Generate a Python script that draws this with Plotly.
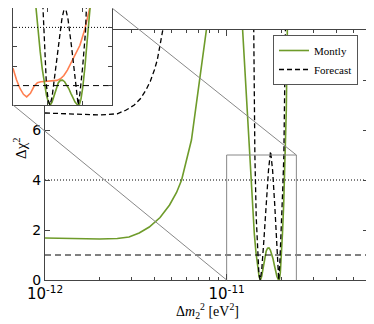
# Delta chi^2 scan: Montly fit vs forecast, with zoomed inset
import numpy as np
import plotly.graph_objs as go

# x values are in units of 1e-12 eV^2
montly_x = [1.0, 1.5, 2.0, 2.5, 2.9, 3.3, 3.75, 4.3, 4.85, 5.3, 5.65, 6.4, 7.1, 7.8, 8.5,
            11.5, 12.2, 12.8, 13.3, 13.6, 13.9, 14.2, 14.5, 14.8, 15.1, 15.35, 15.6, 15.9,
            16.2, 16.5, 16.8, 17.1, 17.4, 17.7, 18.0, 18.3, 18.6, 18.9, 19.2, 19.5, 19.75,
            20.0, 20.3, 20.6, 20.85, 21.05, 21.3, 21.6, 22.0, 60.0]
montly_chi2 = [1.68, 1.66, 1.64, 1.66, 1.72, 1.88, 2.12, 2.5, 3.0, 3.5, 4.0, 5.6, 7.9, 10.2, 13.0,
               14.0, 10.2, 7.5, 5.0, 3.8, 2.75, 1.85, 1.1, 0.5, 0.12, 0.0, 0.15, 0.5,
               0.9, 1.15, 1.27, 1.28, 1.2, 1.05, 0.85, 0.6, 0.35, 0.15, 0.03, 0.0, 0.3,
               0.9, 1.9, 3.0, 4.1, 5.0, 6.8, 10.2, 13.0, 14.0]

forecast_x = [1.0, 1.5, 2.0, 2.5, 2.8, 3.1, 3.35, 3.6, 3.8, 4.0, 4.15, 4.3, 4.45, 4.6,
              13.8, 14.1, 14.3, 14.55, 14.8, 15.05, 15.3, 15.6, 16.0, 16.5, 17.0, 17.45,
              17.9, 18.4, 18.8, 19.1, 19.35, 19.6, 20.0, 20.4, 20.65, 20.9, 21.1, 60.0]
forecast_chi2 = [6.68, 6.62, 6.6, 6.65, 6.8, 7.0, 7.25, 7.6, 7.95, 8.4, 8.8, 9.4, 10.0, 11.0,
                 12.0, 10.0, 5.0, 2.5, 1.0, 0.25, 0.0, 0.4, 1.5, 3.0, 4.4, 5.15,
                 4.4, 3.0, 1.6, 0.5, 0.0, 0.6, 2.0, 3.8, 5.0, 8.0, 10.5, 12.0]

other_x = [10.0, 10.5, 11.0, 11.5, 11.96, 12.5, 13.0, 13.5, 14.0, 14.5, 15.0, 15.5, 16.3,
           16.8, 17.3, 17.8, 18.2, 18.9, 19.6, 20.3, 21.0, 21.2]
other_chi2 = [1.9, 1.3, 0.85, 0.55, 0.42, 0.6, 0.95, 1.15, 1.2, 1.22, 1.23, 1.25, 1.27,
              1.35, 1.52, 1.8, 2.08, 2.55, 3.08, 3.9, 4.9, 5.3]

ref_levels = [1, 4]
x_range = [1e-12, 6e-11]
x_major = [1e-12, 1e-11]
x_major_text = ['10<sup>-12</sup>', '10<sup>-11</sup>']
y_range = [0, 10]
zoom_x = [1e-11, 2.42e-11]
zoom_y = [0, 5]

W, H = 374, 324
OFF = 8  # page body margin
green = '#6e9b2a'
orange = '#ff7f50'
frame = '#444444'
dash_fc = '5px,3px'
dash_ref = '6px,4px'
dot_ref = '1px,2px'

def sc(xs):
    return [v * 1e-12 for v in xs]

# layout in window pixels -> paper fractions
def fx(p):
    return (p - OFF) / W
def fy(p):
    return min(1.0, max(0.0, 1 - (p - OFF) / H))

main_dx = [fx(45), fx(368)]
main_dy = [fy(280), fy(30)]
ins_dx = [fx(13), fx(112)]
ins_dy = [fy(105), fy(5)]

data = []
# main panel
data.append(go.Scatter(x=sc(montly_x), y=montly_chi2, mode='lines', name='Montly',
                       line=dict(color=green, width=1.6), xaxis='x', yaxis='y'))
data.append(go.Scatter(x=sc(forecast_x), y=forecast_chi2, mode='lines', name='Forecast',
                       line=dict(color='black', width=1.3, dash=dash_fc), xaxis='x', yaxis='y'))
data.append(go.Scatter(x=x_range, y=[ref_levels[0]] * 2, mode='lines', showlegend=False,
                       line=dict(color='black', width=1, dash=dash_ref), xaxis='x', yaxis='y'))
data.append(go.Scatter(x=x_range, y=[ref_levels[1]] * 2, mode='lines', showlegend=False,
                       line=dict(color='black', width=1, dash=dot_ref), xaxis='x', yaxis='y'))
# zoom box
data.append(go.Scatter(x=[zoom_x[0], zoom_x[0], zoom_x[1], zoom_x[1]],
                       y=[zoom_y[0], zoom_y[1], zoom_y[1], zoom_y[0]], mode='lines',
                       showlegend=False, line=dict(color='#888888', width=1), xaxis='x', yaxis='y'))

# inset
data.append(go.Scatter(x=sc(other_x), y=other_chi2, mode='lines', showlegend=False,
                       line=dict(color=orange, width=1.6), xaxis='x2', yaxis='y2'))
data.append(go.Scatter(x=sc(montly_x), y=montly_chi2, mode='lines', showlegend=False,
                       line=dict(color=green, width=1.6), xaxis='x2', yaxis='y2'))
data.append(go.Scatter(x=sc(forecast_x), y=forecast_chi2, mode='lines', showlegend=False,
                       line=dict(color='black', width=1.3, dash=dash_fc), xaxis='x2', yaxis='y2'))
data.append(go.Scatter(x=zoom_x, y=[ref_levels[0]] * 2, mode='lines', showlegend=False,
                       line=dict(color='black', width=1, dash=dash_ref), xaxis='x2', yaxis='y2'))
data.append(go.Scatter(x=zoom_x, y=[ref_levels[1]] * 2, mode='lines', showlegend=False,
                       line=dict(color='black', width=1, dash=dot_ref), xaxis='x2', yaxis='y2'))

# connector lines from inset corners to zoom box corners
lx = np.log10(x_range)
def px(xv):
    return main_dx[0] + (np.log10(xv) - lx[0]) / (lx[1] - lx[0]) * (main_dx[1] - main_dx[0])
def py(yv):
    return main_dy[0] + (yv - y_range[0]) / (y_range[1] - y_range[0]) * (main_dy[1] - main_dy[0])

shapes = [
    # white card under the inset (drawn in the inset subplot, above the main one)
    dict(type='rect', xref='x2', yref='y2', x0=zoom_x[0], x1=zoom_x[1], y0=zoom_y[0], y1=zoom_y[1],
         fillcolor='white', line=dict(width=0), layer='below'),
    dict(type='line', xref='paper', yref='paper', x0=ins_dx[1], y0=ins_dy[1],
         x1=px(zoom_x[1]), y1=py(zoom_y[1]), line=dict(color='#888888', width=1)),
    dict(type='line', xref='paper', yref='paper', x0=ins_dx[0], y0=ins_dy[0],
         x1=px(zoom_x[0]), y1=py(zoom_y[0]), line=dict(color='#888888', width=1)),
]

axis_common = dict(showgrid=False, zeroline=False, automargin=False, showline=True,
                   linecolor=frame, linewidth=1, mirror='ticks', ticks='inside',
                   tickcolor=frame)

layout = go.Layout(
    template='none',
    width=W, height=H,
    margin=dict(l=0, r=0, t=0, b=0, pad=0),
    paper_bgcolor='white', plot_bgcolor='white',
    font=dict(family='DejaVu Sans', color='black'),
    xaxis=dict(type='log', range=list(lx), domain=main_dx, anchor='y',
               tickvals=x_major, ticktext=x_major_text, ticklen=6,
               minor=dict(ticks='inside', ticklen=3, dtick='D1', tickcolor=frame),
               tickfont=dict(size=15), **axis_common),
    yaxis=dict(range=y_range, domain=main_dy, anchor='x', dtick=2, ticklen=5,
               tickfont=dict(size=14), **axis_common),
    xaxis2=dict(range=zoom_x, domain=ins_dx, anchor='y2', tickvals=[1.5e-11, 2e-11],
                ticklen=4, showticklabels=False, **axis_common),
    yaxis2=dict(range=zoom_y, domain=ins_dy, anchor='x2', dtick=1, ticklen=4,
                showticklabels=False, **axis_common),
    showlegend=True,
    legend=dict(x=fx(273), y=fy(35), xanchor='left', yanchor='top',
                bgcolor='white', bordercolor='#555555', borderwidth=1, itemwidth=30,
                font=dict(family='Liberation Serif', size=11), tracegroupgap=0),
    shapes=shapes,
    annotations=[
        dict(text='Δ<i>m</i><sub>2</sub><sup>2</sup> [eV<sup>2</sup>]', xref='paper', yref='paper',
             x=fx(207), y=fy(311), xanchor='center', yanchor='middle', showarrow=False,
             font=dict(family='Liberation Serif', size=14)),
        dict(text='Δχ<sup>2</sup>', xref='paper', yref='paper', x=fx(20), y=fy(148),
             xanchor='center', yanchor='middle', showarrow=False, textangle=-90,
             font=dict(family='Liberation Serif', size=15)),
    ],
)

fig = go.Figure(data=data, layout=layout)
fig.write_html("out.html")
